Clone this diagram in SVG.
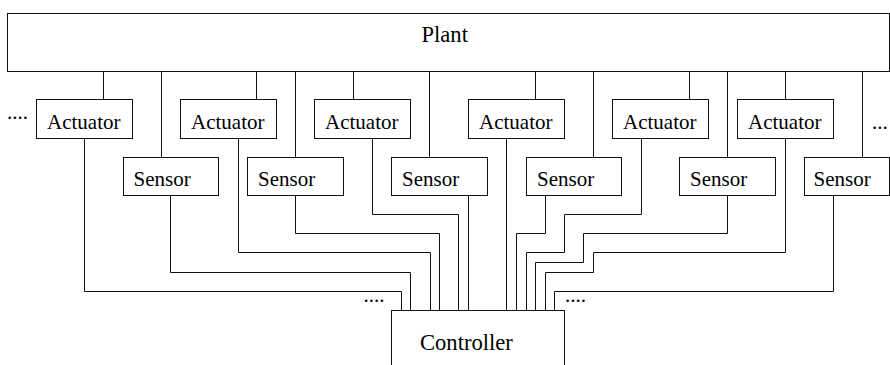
<svg xmlns="http://www.w3.org/2000/svg" width="890" height="365" viewBox="0 0 890 365">
<style>
.box{fill:#fff;stroke:#111;stroke-width:1}
.w{fill:none;stroke:#111;stroke-width:1}
text{font-family:"Liberation Serif","Times New Roman",serif;fill:#000}
.t{font-size:21px}
.big{font-size:22.6px}
</style>
<rect width="890" height="365" fill="#fff"/>
<g id="connectors" class="w">
<path d="M103.5 71.5V99.5M256.5 71.5V99.5M353.5 71.5V99.5M535.5 71.5V99.5M689.5 71.5V99.5M785.5 71.5V99.5"/>
<path d="M161.5 71.5V157.5M295.5 71.5V157.5M429.5 71.5V157.5M593.5 71.5V157.5M727.5 71.5V157.5M862.5 71.5V157.5"/>
<path d="M84.5 138.5V291.5H401.5V310.5"/>
<path d="M170.5 195.5V272.5H410.5V310.5"/>
<path d="M238.5 138.5V252.5H430.5V310.5"/>
<path d="M295.5 195.5V233.5H439.5V310.5"/>
<path d="M372.5 138.5V214.5H458.5V310.5"/>
<path d="M468.5 195.5V310.5"/>
<path d="M506.5 138.5V310.5"/>
<path d="M545.5 195.5V233.5H516.5V310.5"/>
<path d="M641.5 138.5V214.5H564.5V252.5H526.5V310.5"/>
<path d="M727.5 195.5V233.5H583.5V262.5H535.5V310.5"/>
<path d="M785.5 138.5V252.5H593.5V272.5H545.5V310.5"/>
<path d="M833.5 195.5V291.5H554.5V310.5"/>
</g>
<g id="plant"><rect class="box" x="7.5" y="13.5" width="882" height="58"/><text class="big" x="421.5" y="42">Plant</text></g>
<g id="actuator1"><rect class="box" x="36.5" y="99.5" width="96" height="39"/><text class="t" x="47" y="129.3">Actuator</text></g>
<g id="actuator2"><rect class="box" x="180.5" y="99.5" width="96" height="39"/><text class="t" x="191" y="129.3">Actuator</text></g>
<g id="actuator3"><rect class="box" x="314.5" y="99.5" width="96" height="39"/><text class="t" x="325" y="129.3">Actuator</text></g>
<g id="actuator4"><rect class="box" x="468.5" y="99.5" width="96" height="39"/><text class="t" x="479" y="129.3">Actuator</text></g>
<g id="actuator5"><rect class="box" x="612.5" y="99.5" width="96" height="39"/><text class="t" x="623" y="129.3">Actuator</text></g>
<g id="actuator6"><rect class="box" x="737.5" y="99.5" width="96" height="39"/><text class="t" x="748" y="129.3">Actuator</text></g>
<g id="sensor1"><rect class="box" x="123.5" y="157.5" width="95" height="38"/><text class="t" x="133.5" y="186">Sensor</text></g>
<g id="sensor2"><rect class="box" x="247.5" y="157.5" width="96" height="38"/><text class="t" x="258" y="186">Sensor</text></g>
<g id="sensor3"><rect class="box" x="391.5" y="157.5" width="96" height="38"/><text class="t" x="402" y="186">Sensor</text></g>
<g id="sensor4"><rect class="box" x="526.5" y="157.5" width="95" height="38"/><text class="t" x="537" y="186">Sensor</text></g>
<g id="sensor5"><rect class="box" x="679.5" y="157.5" width="96" height="38"/><text class="t" x="690" y="186">Sensor</text></g>
<g id="sensor6"><rect class="box" x="804.5" y="157.5" width="85" height="38"/><text class="t" x="813.5" y="186">Sensor</text></g>
<g id="controller"><rect class="box" x="391.5" y="310.5" width="173" height="70"/><text class="big" x="420" y="350">Controller</text></g>
<g id="ellipses">
<text class="t" x="7" y="118.5">....</text>
<text class="t" x="872" y="129.3">...</text>
<text class="t" x="363.5" y="301.5">....</text>
<text class="t" x="565" y="301.5">....</text>
</g>
</svg>
